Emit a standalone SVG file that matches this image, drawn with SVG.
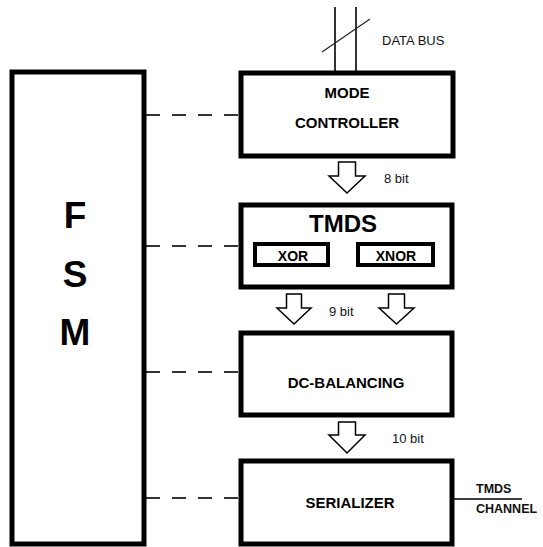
<svg xmlns="http://www.w3.org/2000/svg" width="543" height="547" viewBox="0 0 543 547">
<style>
.box{fill:#fff;stroke:#000;stroke-width:5}
.sub{fill:#fff;stroke:#000;stroke-width:4}
.dash{stroke:#333;stroke-width:2;stroke-dasharray:14 12;fill:none}
.arr{fill:#fff;stroke:#000;stroke-width:1.5;stroke-linejoin:miter}
.t{font-family:"Liberation Sans",Arial,sans-serif;font-weight:bold;fill:#000;text-anchor:middle}
.s{font-family:"Liberation Sans",Arial,sans-serif;fill:#111}
.line{stroke:#000;stroke-width:1.6;fill:none}
</style>
<rect width="543" height="547" fill="#fff"/>
<g id="connectors">
  <line class="dash" x1="146" y1="115" x2="241" y2="115"/>
  <line class="dash" x1="146" y1="246" x2="241" y2="246"/>
  <line class="dash" x1="146" y1="372" x2="241" y2="372"/>
  <line class="dash" x1="146" y1="498" x2="241" y2="498"/>
  <line class="line" x1="335" y1="7" x2="335" y2="72"/>
  <line class="line" x1="356" y1="7" x2="356" y2="72"/>
  <line x1="322" y1="52" x2="370" y2="19" stroke="#222" stroke-width="1.2"/>
  <text class="s" x="382" y="45" font-size="13">DATA BUS</text>
  <path class="arr" d="M338.5,162 H355.5 V176 H365 L347,193 L329,176 H338.5 Z"/>
  <text class="s" x="384" y="183" font-size="13">8 bit</text>
  <path class="arr" d="M286.5,294 H301.5 V308 H311 L294,324 L277,308 H286.5 Z"/>
  <path class="arr" d="M388.5,294 H404.5 V308 H414 L396.5,324 L379,308 H388.5 Z"/>
  <text class="s" x="329" y="316" font-size="13">9 bit</text>
  <path class="arr" d="M338.5,422 H355.5 V435 H365 L347,453 L329,435 H338.5 Z"/>
  <text class="s" x="392" y="443" font-size="13">10 bit</text>
  <line class="line" x1="453" y1="499" x2="522" y2="499" stroke-width="1.3"/>
  <text class="s" x="476" y="493" font-size="12.5" font-weight="bold">TMDS</text>
  <text class="s" x="476" y="513" font-size="12.5" font-weight="bold">CHANNEL</text>
</g>
<g id="fsm">
  <rect class="box" x="12" y="72" width="132" height="472"/>
  <text class="t" x="75" y="228" font-size="37">F</text>
  <text class="t" x="75" y="287" font-size="37">S</text>
  <text class="t" x="75" y="345" font-size="37">M</text>
</g>
<g id="mode-controller">
  <rect class="box" x="241" y="73" width="212" height="83"/>
  <text class="t" x="347" y="98" font-size="15">MODE</text>
  <text class="t" x="347" y="128" font-size="15">CONTROLLER</text>
</g>
<g id="tmds">
  <rect class="box" x="241" y="205" width="211" height="82"/>
  <text class="t" x="343" y="232" font-size="24">TMDS</text>
  <g id="xor">
    <rect class="sub" x="255" y="244" width="73" height="21"/>
    <text class="t" x="293" y="261" font-size="14">XOR</text>
  </g>
  <g id="xnor">
    <rect class="sub" x="358" y="244" width="75" height="21"/>
    <text class="t" x="396" y="261" font-size="14">XNOR</text>
  </g>
</g>
<g id="dc-balancing">
  <rect class="box" x="241" y="333" width="211" height="82"/>
  <text class="t" x="346" y="388" font-size="15">DC-BALANCING</text>
</g>
<g id="serializer">
  <rect class="box" x="241" y="461" width="211" height="83"/>
  <text class="t" x="350" y="508" font-size="15">SERIALIZER</text>
</g>
</svg>
